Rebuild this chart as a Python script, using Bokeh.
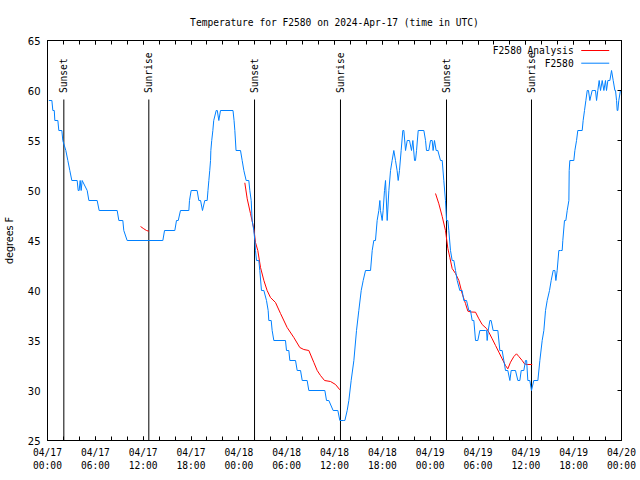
import math
from datetime import datetime, timezone
from bokeh.plotting import figure
from bokeh.models import (Range1d, FixedTicker, DatetimeTickFormatter, LinearAxis, DatetimeAxis,
                          CustomJSTickFormatter)
from bokeh.core.properties import value
from bokeh.embed import file_html
from bokeh.resources import INLINE

# ---------------- data ----------------
start_day = datetime(2024, 4, 17, tzinfo=timezone.utc)
span_hours = 72

# F2580 observations: hours since 2024-04-17 00:00 UTC, temperature (F)
obs_hours = [0.17, 0.55, 0.67, 0.85, 0.92, 1.3, 1.42, 1.8, 1.92, 2.3, 2.55, 2.8, 3.05, 3.72, 3.85,
             3.97, 4.1, 4.22, 4.35, 4.98, 5.19, 6.23, 6.48, 8.74, 8.95, 9.45, 9.57, 9.99, 14.47, 14.68,
             15.97, 16.18, 16.4, 16.68, 17.73, 17.81, 18.02, 18.77, 18.98, 19.2, 19.44, 19.73, 20.03,
             20.13, 20.24, 20.35, 20.45, 20.49, 20.6, 20.74, 20.85, 21.16, 21.3, 21.49, 21.7, 23.27,
             23.4, 23.5, 23.65, 24.21, 24.42, 24.63, 24.92, 25.25, 25.38, 25.55, 25.67, 25.88, 26.01,
             26.09, 26.22, 26.51, 26.63, 26.84, 27.14, 27.47, 27.68, 27.76, 28.06, 28.18, 28.39, 29.85,
             29.98, 30.27, 30.4, 31.11, 31.32, 31.74, 31.95, 32.57, 32.78, 34.79, 35.0, 35.29, 35.83,
             36.42, 36.67, 37.09, 37.3, 37.59, 37.8, 38.09, 38.43, 38.76, 39.05, 39.35, 39.6, 39.89,
             40.52, 40.73, 40.93, 41.14, 41.35, 41.56, 41.69, 41.77, 41.98, 42.1, 42.27, 42.4, 42.61,
             42.82, 43.03, 43.23, 43.44, 43.65, 43.85, 43.99, 44.15, 44.36, 44.57, 44.7, 44.91, 45.12,
             45.41, 45.66, 45.83, 46.04, 46.16, 46.29, 46.5, 47.21, 47.42, 47.54, 47.83, 48.04, 48.25,
             48.37, 48.54, 48.75, 48.96, 49.3, 49.51, 49.71, 49.92, 50.05, 50.22, 50.34, 50.55, 50.76,
             50.97, 51.18, 51.39, 51.72, 52.01, 52.22, 52.56, 52.85, 53.06, 53.27, 53.48, 53.69, 53.98,
             54.23, 54.94, 55.07, 55.15, 55.28, 55.49, 55.65, 55.9, 56.49, 56.74, 57.03, 57.24, 57.45,
             57.74, 58.0, 58.16, 58.5, 58.7, 59.0, 59.25, 59.42, 59.75, 59.96, 60.1, 60.25, 60.5, 60.71,
             61.0, 61.51, 61.76, 62.05, 62.26, 62.47, 62.68, 62.97, 63.18, 63.43, 63.64, 63.77, 63.93,
             64.14, 64.35, 64.56, 64.64, 64.85, 65.02, 65.19, 65.4, 65.44, 65.52, 66.02, 66.15, 66.36,
             66.52, 67.07, 67.19, 67.36, 67.53, 67.7, 67.86, 68.03, 68.32, 68.45, 68.74, 68.87, 69.03,
             69.2, 69.37, 69.58, 69.79, 69.99, 70.12, 70.29, 70.54, 70.75, 70.96, 71.17, 71.25, 71.38,
             71.46, 71.54, 71.66, 71.87, 72.0]
obs_temps = [59, 59, 58, 58, 57, 57, 56, 56, 55, 54, 53, 52, 51, 51, 50,
             50, 51, 50, 51, 50, 49, 49, 48, 48, 47, 47, 46, 45, 45, 46,
             46, 47, 47, 48, 48, 49, 50, 50, 49, 49, 48, 49, 49,
             50, 51, 52, 53, 54, 55, 56, 57, 58, 58, 57, 58, 58,
             57, 56, 54, 54, 53, 52, 51, 51, 50, 49, 47, 46, 45,
             44, 43, 43, 42, 40, 40, 39, 38, 37, 37, 36, 35, 35,
             34, 34, 33, 33, 32, 32, 31, 31, 30, 30, 29, 29, 28,
             28, 27, 27, 27, 28, 29, 31, 33, 36, 38, 40, 41, 42,
             42, 44, 45, 45, 47, 48, 49, 48, 47, 48, 50, 51, 47,
             50, 52, 53, 54, 53, 52, 51, 52, 54, 56, 56, 54, 55,
             55, 54, 55, 53, 53, 54, 56, 56, 55, 54, 54, 55, 55,
             54, 55, 54, 54, 53, 53, 51, 49, 47, 47, 46, 44, 43,
             43, 42, 41, 40, 40, 39, 39, 38, 38, 37, 37, 35, 35,
             36, 36, 36, 35, 36, 37, 37, 36, 36, 34, 34, 33, 32,
             32, 31, 32, 32, 32, 31, 31, 32, 32, 33, 33, 31, 31, 30,
             31, 31, 33, 35, 36, 38, 39, 40, 41, 42, 42, 41, 42,
             44, 44, 44, 45, 47, 47, 48, 49, 52, 53, 53, 54, 55,
             56, 56, 57, 58, 59, 60, 60, 59, 60, 60, 60, 59, 60,
             61, 60, 61, 60, 61, 60, 61, 61, 62, 61, 60, 60, 59,
             58, 58, 59, 60, 60]

# F2580 Analysis (gaps marked with NaN)
nan = float("nan")
ana_hours = [11.67, 12.08, 12.42, 12.71, nan,
             24.75, 25.05, 25.46, 25.88, 26.09, 26.38, 26.72, 27.14, 27.55, 27.97, 28.6, 29.23,
             30.06, 30.9, 31.65, 32.15, 32.78, 33.41, 33.83, 34.24, 34.75, 35.5, 36.13, 36.67, nan,
             48.67, 49.09, 49.51, 49.92, 50.22, 50.47, 50.76, 51.18, 51.6, 52.01, 52.43, 52.73,
             53.14, 53.69, 54.11, 54.52, 55.07, 55.36, 55.78, 56.2, 56.62, 57.03, 57.45, 57.74,
             58.08, 58.5, 58.83, 59.12, 59.54, 59.83, 60.17, 60.8]
ana_temps = [46.4, 46.17, 46.0, 45.93, nan,
             50.77, 49.17, 47.7, 46.2, 44.8, 44.0, 42.3, 41.0, 40.0, 39.3, 38.8, 37.7,
             36.3, 35.3, 34.3, 34.1, 34.0, 32.8, 32.0, 31.5, 31.0, 30.9, 30.6, 30.07, nan,
             49.7, 48.67, 47.4, 46.0, 44.2, 43.3, 42.2, 41.7, 41.0, 39.7, 38.7, 37.93,
             37.85, 37.83, 37.17, 36.6, 36.2, 35.83, 35.17, 34.5, 33.83, 33.17, 32.5, 32.17,
             32.83, 33.4, 33.67, 33.4, 33.0, 32.67, 32.6, 32.6]

# Sun events
sun_hours = [2.05, 12.71, 25.97, 36.75, 50.05, 60.71]
sun_names = ["Sunset", "Sunrise", "Sunset", "Sunrise", "Sunset", "Sunrise"]

y_ticks = [25, 30, 35, 40, 45, 50, 55, 60, 65]
series_names = ["F2580 Analysis", "F2580"]
series_colors = ["#ff0000", "#0080ff"]

# ---------------- helpers ----------------
T0 = start_day.timestamp() * 1000.0
HOUR = 3600000.0
def ms(h):
    return T0 + h * HOUR

MONO = "DejaVu Sans Mono"
SANS = "DejaVu Sans"

p = figure(width=640, height=480, x_axis_type="datetime", output_backend="svg",
           toolbar_location=None,
           x_range=Range1d(ms(0), ms(span_hours)), y_range=Range1d(25, 65),
           min_border_left=47, min_border_right=19, min_border_top=40, min_border_bottom=40)
p.background_fill_color = "white"
p.border_fill_color = "white"
p.outline_line_color = "black"
p.outline_line_width = 1
p.xgrid.visible = False
p.ygrid.visible = False

major = [ms(h) for h in range(0, span_hours + 1, 6)]
minor = [ms(h) for h in range(0, span_hours + 1, 2)]
fmt_str = "%m/%d\n%H:%M"
fmt = DatetimeTickFormatter(microseconds=fmt_str, milliseconds=fmt_str, seconds=fmt_str,
                            minsec=fmt_str, minutes=fmt_str, hourmin=fmt_str, hours=fmt_str,
                            days=fmt_str, months=fmt_str, years=fmt_str)

xa = p.xaxis[0]
xa.ticker = FixedTicker(ticks=major, minor_ticks=minor)
xa.formatter = fmt
xa.major_tick_in = 4
xa.major_tick_out = 0
xa.minor_tick_in = 4
xa.minor_tick_out = 0
xa.major_label_standoff = 6
xa.major_label_text_font = MONO
xa.major_label_text_font_size = "9.6px"
xa.major_label_text_color = "black"
xa.axis_line_color = "black"

ya = p.yaxis[0]
ya.ticker = FixedTicker(ticks=y_ticks)
ya.major_tick_in = 0
ya.major_tick_out = 0
ya.minor_tick_line_color = None
ya.major_label_standoff = 7
ya.major_label_text_font = SANS
ya.major_label_text_font_size = "10px"
ya.major_label_text_color = "black"
ya.axis_label = "degrees F"
ya.axis_label_text_font = SANS
ya.axis_label_text_font_size = "9.6px"
ya.axis_label_text_font_style = "normal"
ya.axis_label_text_color = "black"
ya.axis_label_standoff = 10

blank = CustomJSTickFormatter(code="return ''")
top = DatetimeAxis(ticker=FixedTicker(ticks=major, minor_ticks=minor), formatter=blank,
                   major_label_standoff=0,
                   major_tick_in=4, major_tick_out=0, minor_tick_in=4, minor_tick_out=0)
p.add_layout(top, "above")
right = LinearAxis(ticker=FixedTicker(ticks=y_ticks), formatter=CustomJSTickFormatter(code="return ''"),
                   major_label_standoff=0, major_tick_in=4, major_tick_out=0,
                   minor_tick_line_color=None)
p.add_layout(right, "right")

p.title.text = "Temperature for F2580 on 2024-Apr-17 (time in UTC)"
p.title.text_font = MONO
p.title.text_font_size = "9.6px"
p.title.text_font_style = "normal"
p.title.text_color = "black"
p.title.align = "center"
p.title.standoff = 26

# sun event lines + labels
sx = [ms(h) for h in sun_hours]
p.segment(x0=sx, y0=[25] * len(sx), x1=sx, y1=[59.1] * len(sx), line_color="black", line_width=1)
p.text(x=sx, y=[59.75] * len(sx), text=sun_names, angle=math.pi / 2, text_align="left",
       text_baseline="middle", text_font=value(MONO), text_font_size="9.6px", text_color="black")

# series
p.line([ms(h) for h in ana_hours], ana_temps, line_color=series_colors[0], line_width=1)
p.line([ms(h) for h in obs_hours], obs_temps, line_color=series_colors[1], line_width=1)

# legend (gnuplot style: label left, sample right)
leg_y = [64.0, 62.73]
p.text(x=[ms(66.0)] * 2, y=leg_y, text=series_names, text_align="right", text_baseline="middle",
       text_font=value(MONO), text_font_size="9.6px", text_color="black")
p.segment(x0=[ms(66.95)] * 2, y0=leg_y, x1=[ms(70.46)] * 2, y1=leg_y,
          line_color=series_colors, line_width=1)

open("out.html", "w").write(file_html(p, INLINE))
